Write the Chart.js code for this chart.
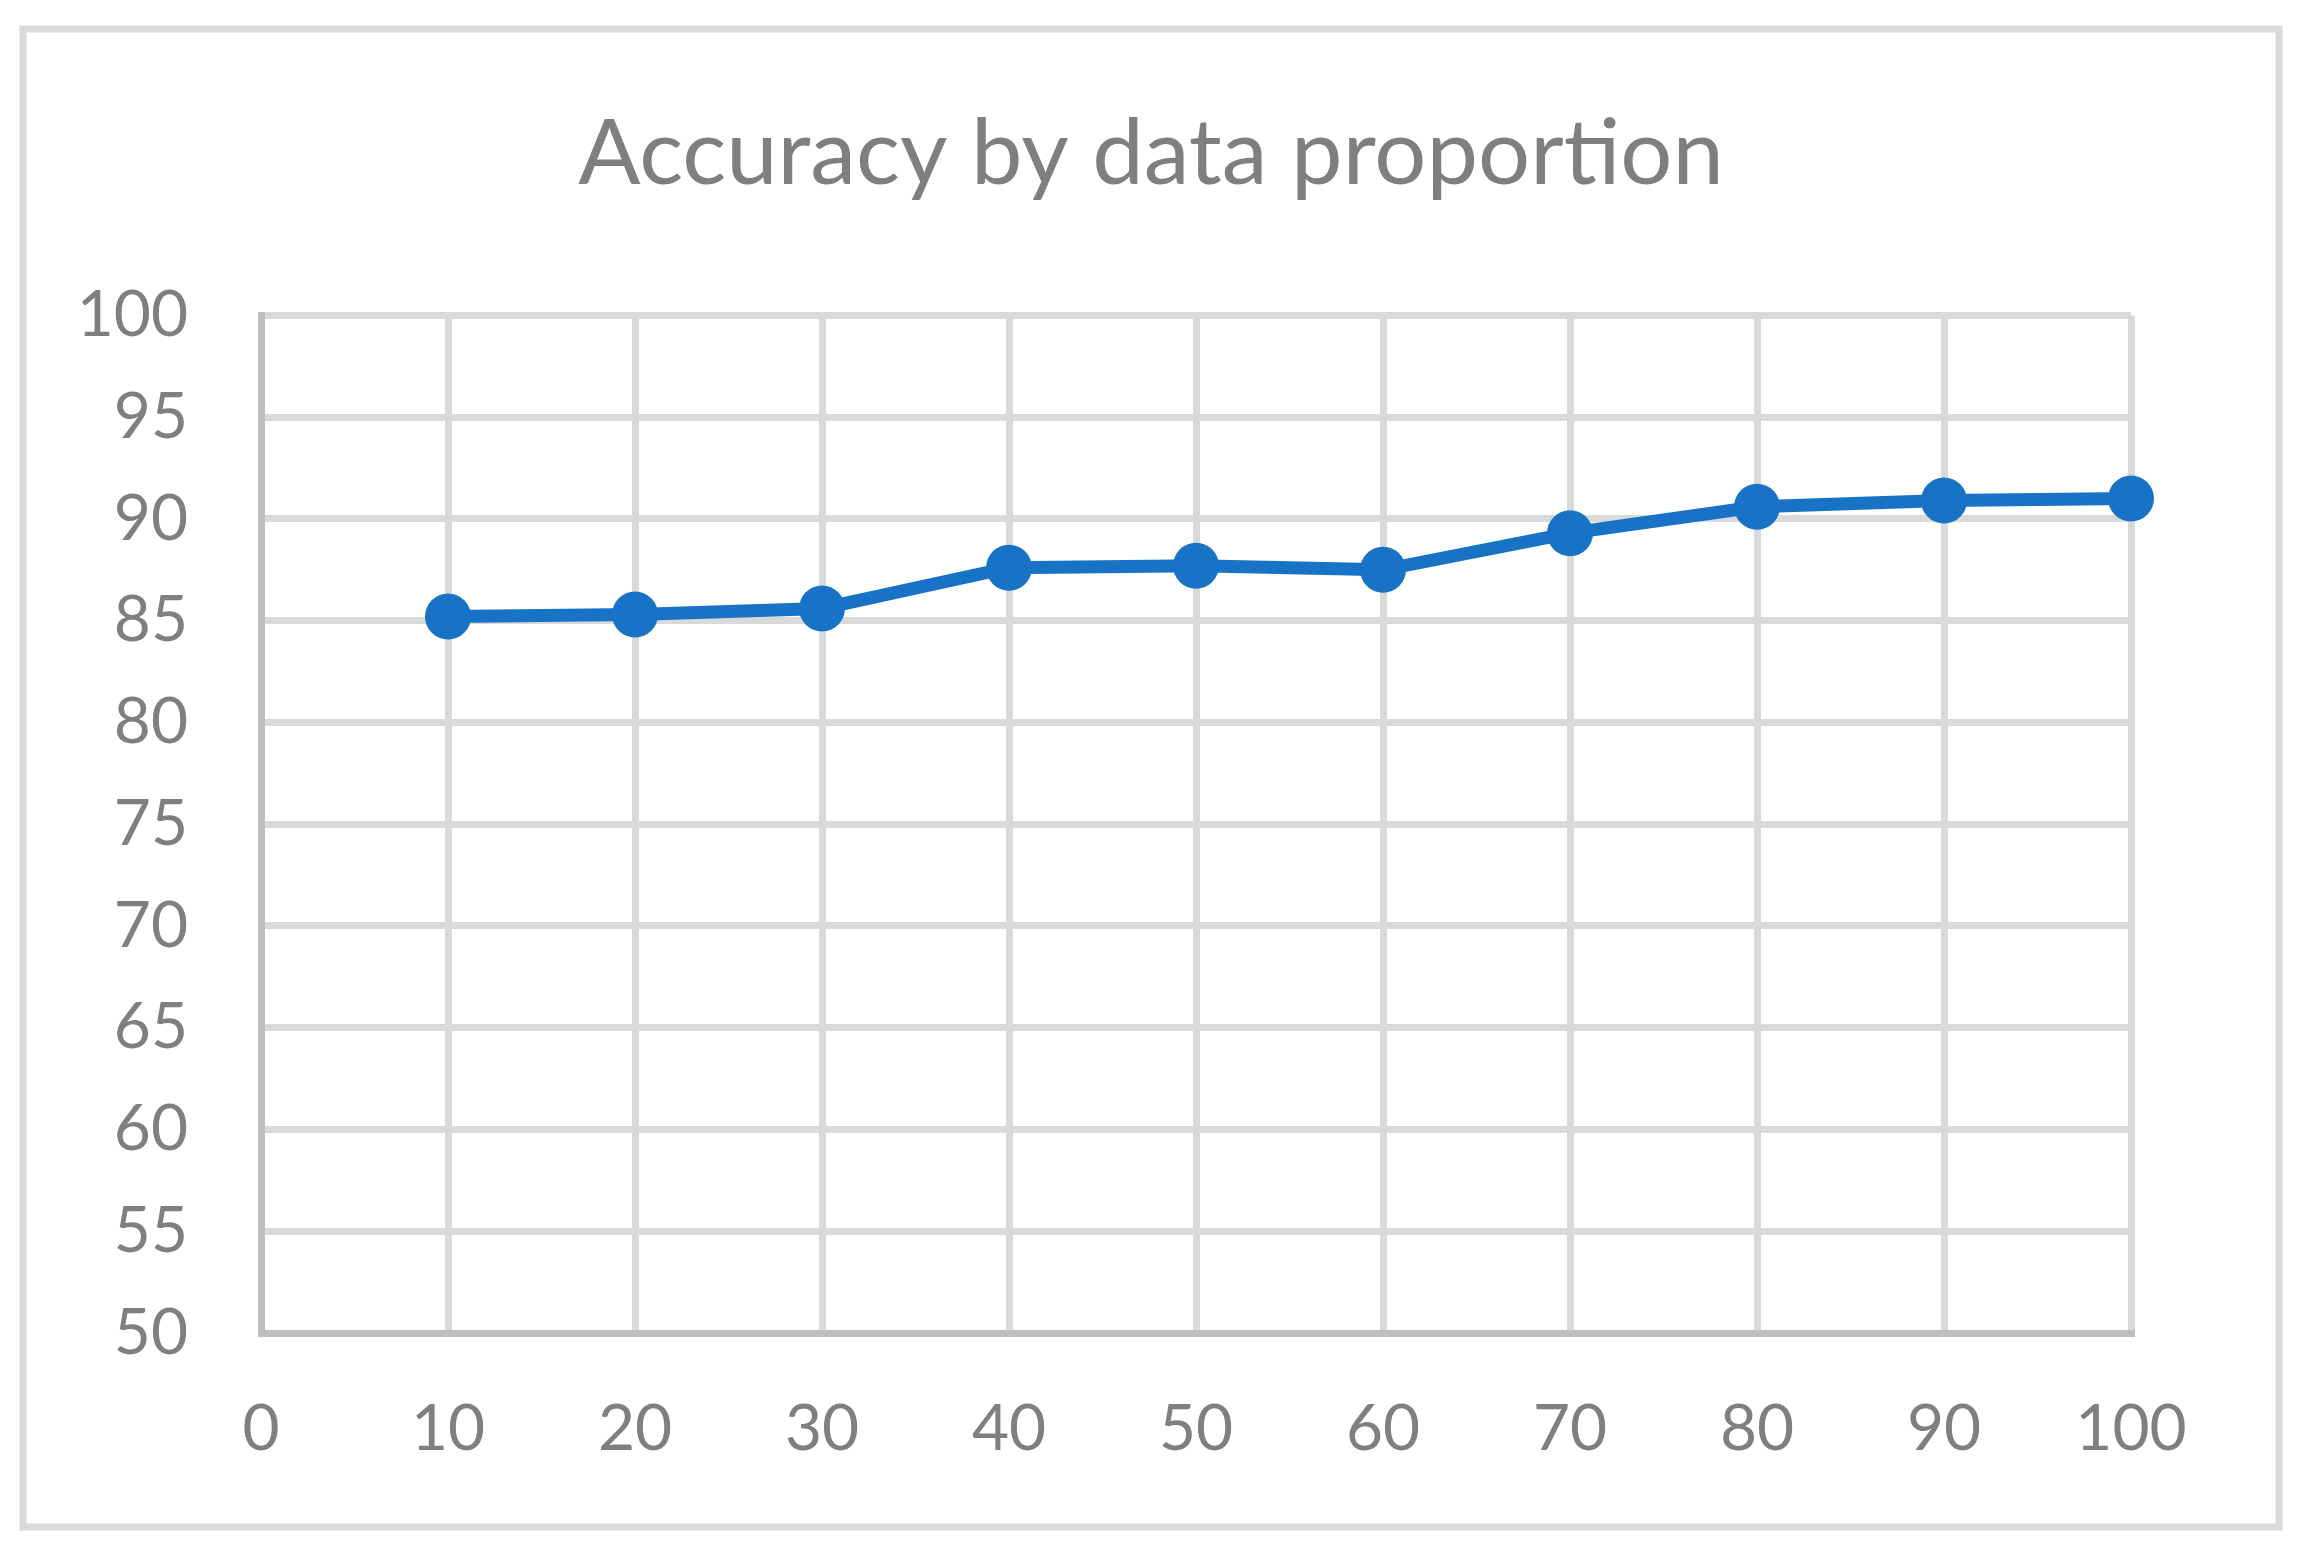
<!DOCTYPE html>
<html>
<head>
<meta charset="utf-8">
<title>Accuracy by data proportion</title>
<script src="https://cdn.jsdelivr.net/npm/chart.js@4"></script>
<style>
  html, body { margin: 0; padding: 0; background: #fff; }
  #wrap { position: relative; width: 2302px; height: 1553px; }
</style>
</head>
<body>
<div id="wrap"><canvas id="accChart"></canvas></div>
<script>
// data proportion (%) and accuracy
const proportions = [10, 20, 30, 40, 50, 60, 70, 80, 90, 100];
const accuracy = [85.2, 85.3, 85.6, 87.6, 87.7, 87.5, 89.3, 90.6, 90.9, 91.0];
const xTicks = [0, 10, 20, 30, 40, 50, 60, 70, 80, 90, 100];
const yTicks = [50, 55, 60, 65, 70, 75, 80, 85, 90, 95, 100];

const gray = '#7f7f7f';
const gridGray = '#d9d9d9';
const axisGray = '#bfbfbf';
const blue = '#1873c6';

// outer frame round the whole chart, like the Excel chart area border
const frame = {
  id: 'frame',
  beforeDraw(chart) {
    const ctx = chart.ctx;
    ctx.save();
    ctx.fillStyle = '#fff';
    ctx.fillRect(0, 0, chart.width, chart.height);
    ctx.strokeStyle = gridGray;
    ctx.lineWidth = 7;
    ctx.strokeRect(23, 29, 2256, 1498);
    ctx.restore();
  }
};

const ctx = document.getElementById('accChart').getContext('2d');
new Chart(ctx, {
  type: 'line',
  data: {
    datasets: [{
      label: 'Accuracy',
      data: proportions.map((p, i) => ({ x: p, y: accuracy[i] })),
      borderColor: blue,
      backgroundColor: blue,
      borderWidth: 13,
      pointRadius: 23,
      pointHoverRadius: 23,
      pointBorderWidth: 0,
      pointBackgroundColor: blue,
      tension: 0,
      clip: false
    }]
  },
  plugins: [frame],
  options: {
    responsive: true,
    maintainAspectRatio: false,
    animation: false,
    events: [],
    layout: { padding: 0 },
    plugins: {
      legend: { display: false },
      tooltip: { enabled: false },
      title: {
        display: true,
        text: 'Accuracy by data proportion',
        color: gray,
        font: { family: 'Lato', size: 92, weight: 'normal' },
        padding: { top: 99, bottom: 106 }
      }
    },
    scales: {
      x: {
        type: 'linear',
        min: 0,
        max: 100,
        afterBuildTicks: axis => { axis.ticks = xTicks.map(v => ({ value: v })); },
        afterFit: axis => { axis.height = 220; },
        grid: { color: gridGray, lineWidth: 7, drawTicks: false },
        border: { color: axisGray, width: 7 },
        ticks: {
          color: gray,
          padding: 58,
          maxRotation: 0,
          font: { family: 'Lato', size: 64 }
        }
      },
      y: {
        min: 50,
        max: 100,
        afterBuildTicks: axis => { axis.ticks = yTicks.map(v => ({ value: v })); },
        afterFit: axis => { axis.width = 261; },
        grid: { color: gridGray, lineWidth: 7, drawTicks: false },
        border: { color: axisGray, width: 7 },
        ticks: {
          color: gray,
          padding: 73,
          font: { family: 'Lato', size: 64 }
        }
      },
      // empty right-hand space so the title stays centred on the whole chart
      yRight: {
        type: 'linear',
        position: 'right',
        afterFit: axis => { axis.width = 171; },
        grid: { display: false, drawTicks: false },
        border: { display: false },
        ticks: { display: false }
      }
    }
  }
});
</script>
</body>
</html>
